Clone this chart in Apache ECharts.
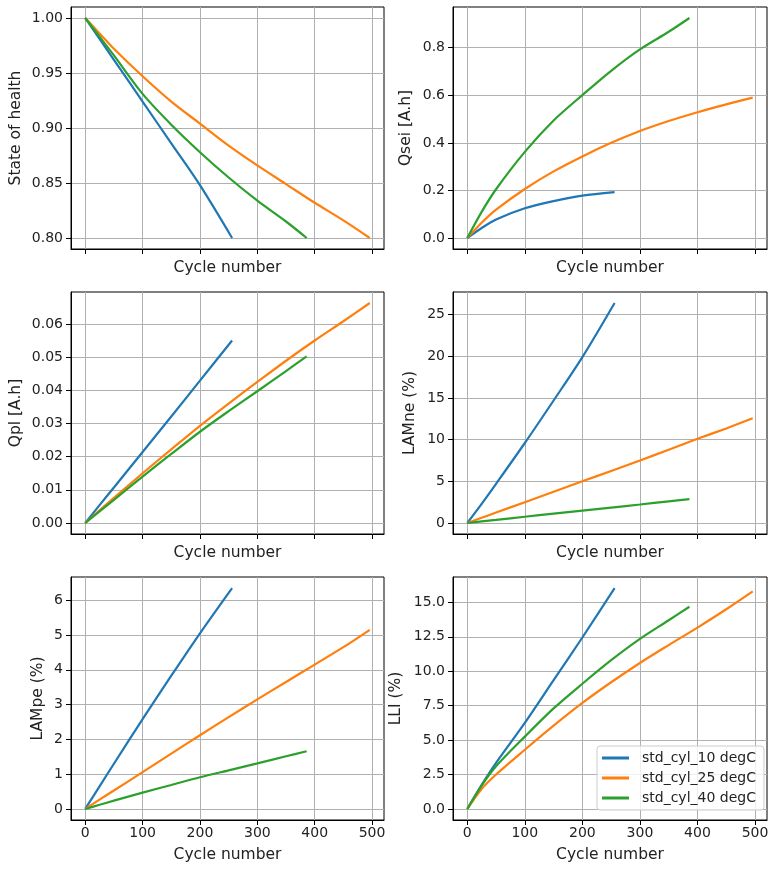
<!DOCTYPE html>
<html>
<head>
<meta charset="utf-8">
<script src="https://cdn.jsdelivr.net/npm/echarts@6/dist/echarts.min.js"></script>
<style>
  html, body { margin: 0; padding: 0; background: #fff; }
  #chart { width: 774px; height: 873px; }
</style>
</head>
<body>
<div id="chart"></div>
<script>
// legend names and colours (matplotlib tab10)
const seriesNames = ['std_cyl_10 degC', 'std_cyl_25 degC', 'std_cyl_40 degC'];
const seriesColors = ['#1f77b4', '#ff7f0e', '#2ca02c'];

// cycle numbers per temperature
const cycles10 = [0, 25, 50, 100, 150, 200, 256];
const cycles25 = [0, 25, 50, 100, 150, 200, 250, 300, 350, 400, 450, 496];
const cycles40 = [0, 25, 50, 100, 150, 200, 250, 300, 350, 386];

// state of health
const soh10 = [1.0, 0.981, 0.962, 0.924, 0.886, 0.848, 0.800];
const soh25 = [1.0, 0.986, 0.972, 0.947, 0.924, 0.904, 0.884, 0.866, 0.849, 0.832, 0.816, 0.800];
const soh40 = [1.0, 0.983, 0.966, 0.931, 0.903, 0.878, 0.855, 0.834, 0.815, 0.800];

// Qsei [A.h]
const qsei10 = [0, 0.042, 0.078, 0.125, 0.155, 0.178, 0.193];
const qsei25 = [0, 0.064, 0.119, 0.206, 0.280, 0.343, 0.400, 0.450, 0.492, 0.529, 0.562, 0.590];
const qsei40 = [0, 0.110, 0.205, 0.362, 0.494, 0.601, 0.703, 0.793, 0.867, 0.925];

// Qpl [A.h]
const qpl10 = [0, 0.0054, 0.0107, 0.0214, 0.0321, 0.0429, 0.0550];
const qpl25 = [0, 0.0038, 0.0076, 0.0150, 0.0222, 0.0293, 0.0360, 0.0425, 0.0489, 0.0550, 0.0608, 0.0663];
const qpl40 = [0, 0.0035, 0.0070, 0.0140, 0.0208, 0.0275, 0.0337, 0.0397, 0.0458, 0.0502];

// LAMne (%)
const lamne10 = [0, 2.3, 4.7, 9.6, 14.7, 19.9, 26.4];
const lamne25 = [0, 0.62, 1.25, 2.5, 3.75, 5.0, 6.25, 7.5, 8.8, 10.1, 11.35, 12.56];
const lamne40 = [0, 0.19, 0.37, 0.75, 1.12, 1.48, 1.85, 2.22, 2.6, 2.87];

// LAMpe (%)
const lampe10 = [0, 0.65, 1.3, 2.58, 3.83, 5.05, 6.35];
const lampe25 = [0, 0.27, 0.53, 1.06, 1.59, 2.12, 2.64, 3.15, 3.65, 4.15, 4.65, 5.15];
const lampe40 = [0, 0.12, 0.24, 0.47, 0.69, 0.91, 1.11, 1.31, 1.515, 1.66];

// LLI (%)
const lli10 = [0, 1.75, 3.35, 6.25, 9.35, 12.45, 16.04];
const lli25 = [0, 1.45, 2.5, 4.3, 6.05, 7.7, 9.2, 10.6, 11.9, 13.17, 14.5, 15.8];
const lli40 = [0, 1.7, 3.1, 5.25, 7.3, 9.09, 10.8, 12.35, 13.7, 14.68];

// tick values
const xTicks = [0, 100, 200, 300, 400, 500];
const sohTicks = [0.80, 0.85, 0.90, 0.95, 1.00];
const qseiTicks = [0.0, 0.2, 0.4, 0.6, 0.8];
const qplTicks = [0.00, 0.01, 0.02, 0.03, 0.04, 0.05, 0.06];
const lamneTicks = [0, 5, 10, 15, 20, 25];
const lampeTicks = [0, 1, 2, 3, 4, 5, 6];
const lliTicks = [0.0, 2.5, 5.0, 7.5, 10.0, 12.5, 15.0];

const cycles = [cycles10, cycles25, cycles40];
const panels = [
  { name: 'State of health', data: [soh10, soh25, soh40], ticks: sohTicks, dec: 2, gap: 47 },
  { name: 'Qsei [A.h]', data: [qsei10, qsei25, qsei40], ticks: qseiTicks, dec: 1, gap: 39 },
  { name: 'Qpl [A.h]', data: [qpl10, qpl25, qpl40], ticks: qplTicks, dec: 2, gap: 47 },
  { name: 'LAMne (%)', data: [lamne10, lamne25, lamne40], ticks: lamneTicks, dec: 0, gap: 35 },
  { name: 'LAMpe (%)', data: [lampe10, lampe25, lampe40], ticks: lampeTicks, dec: 0, gap: 25 },
  { name: 'LLI (%)', data: [lli10, lli25, lli40], ticks: lliTicks, dec: 1, gap: 49 }
];

// matplotlib style 5% margins
function padded(arrs) {
  const all = [].concat(...arrs);
  const lo = Math.min(...all), hi = Math.max(...all);
  const m = (hi - lo) * 0.05;
  return [lo - m, hi + m];
}
const xExt = padded(cycles);

const font = 'DejaVu Sans';
const textColor = '#222';
const gridColor = '#b0b0b0';

const colLeft = [71, 453];
const colWidth = [313, 314];
const rowTop = [7, 292, 577];
const rowHeight = [242, 242, 243];

const grids = [], xAxes = [], yAxes = [], series = [];
panels.forEach((p, i) => {
  const col = i % 2, row = Math.floor(i / 2);
  const bottomRow = row === 2;
  grids.push({
    left: colLeft[col], top: rowTop[row], width: colWidth[col], height: rowHeight[row],
    show: true, borderColor: '#000', borderWidth: 1, backgroundColor: '#fff'
  });
  xAxes.push({
    gridIndex: i, type: 'value', min: xExt[0], max: xExt[1],
    axisLine: { show: true, onZero: false, lineStyle: { color: '#000', width: 1 } },
    axisTick: { show: true, length: 5, customValues: xTicks, lineStyle: { color: '#000' } },
    axisLabel: { show: bottomRow, customValues: xTicks, margin: 6, fontSize: 14, color: textColor, fontFamily: font },
    splitLine: { show: true, lineStyle: { color: gridColor, width: 1 } },
    name: 'Cycle number', nameLocation: 'middle', nameGap: bottomRow ? 27 : 11,
    nameTextStyle: { fontSize: 15.5, color: textColor, fontFamily: font }
  });
  const yExt = padded(p.data);
  yAxes.push({
    gridIndex: i, type: 'value', min: yExt[0], max: yExt[1],
    axisLine: { show: true, onZero: false, lineStyle: { color: '#000', width: 1 } },
    axisTick: { show: true, length: 5, customValues: p.ticks, lineStyle: { color: '#000' } },
    axisLabel: {
      customValues: p.ticks, margin: 8, fontSize: 14, color: textColor, fontFamily: font,
      formatter: v => Number(v).toFixed(p.dec)
    },
    splitLine: { show: true, lineStyle: { color: gridColor, width: 1 } },
    name: p.name, nameLocation: 'middle', nameRotate: 90, nameGap: p.gap,
    nameTextStyle: { fontSize: 15.5, color: textColor, fontFamily: font }
  });
  p.data.forEach((vals, k) => {
    series.push({
      type: 'line', name: seriesNames[k], xAxisIndex: i, yAxisIndex: i,
      data: cycles[k].map((c, j) => [c, vals[j]]),
      showSymbol: false, symbol: 'none',
      smooth: 0.3,
      lineStyle: { width: 2.2, color: seriesColors[k] },
      itemStyle: { color: seriesColors[k] },
      z: 3 + k
    });
  });
});

const chart = echarts.init(document.getElementById('chart'), null, { renderer: 'canvas' });
chart.setOption({
  animation: false,
  grid: grids,
  xAxis: xAxes,
  yAxis: yAxes,
  legend: {
    data: seriesNames,
    orient: 'vertical',
    left: 597, top: 746,
    icon: 'rect', itemWidth: 27, itemHeight: 3, itemGap: 6,
    padding: [5, 8, 5, 5],
    backgroundColor: 'rgba(255,255,255,0.8)',
    borderColor: '#cccccc', borderWidth: 1, borderRadius: 3,
    textStyle: { fontSize: 14, color: textColor, fontFamily: font, padding: [0, 0, 0, 8] }
  },
  series: series
});
</script>
</body>
</html>
